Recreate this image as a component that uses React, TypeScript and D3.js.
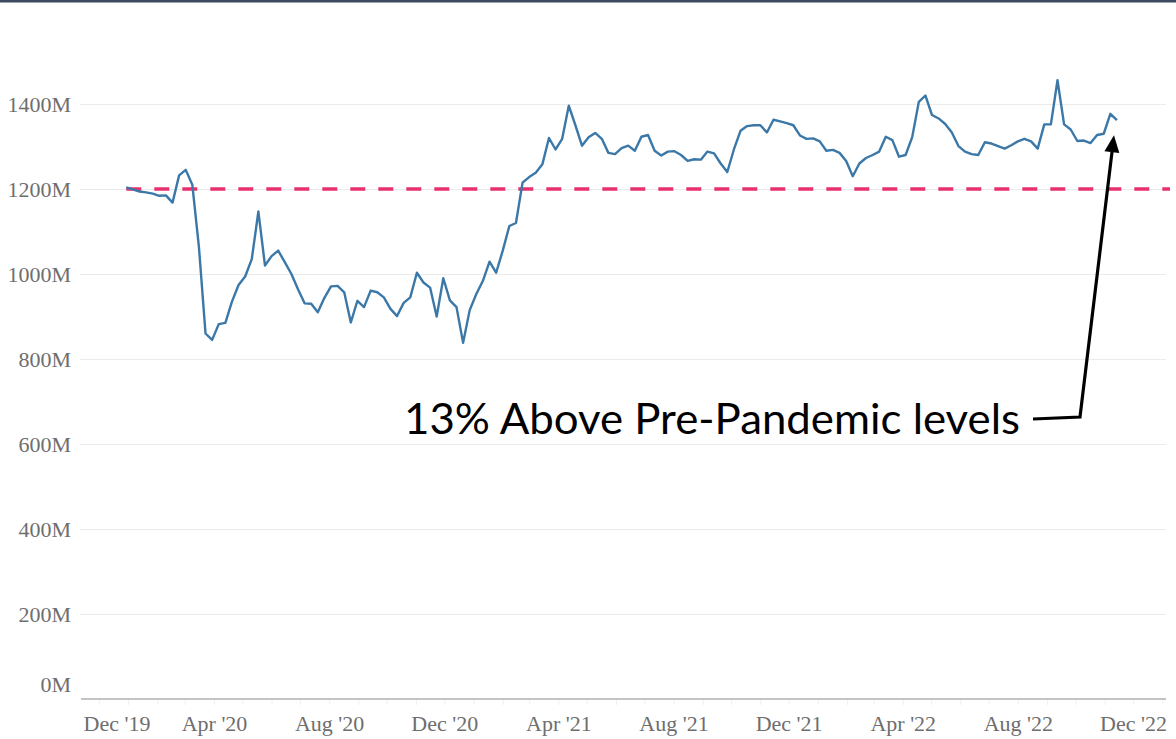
import React, { useRef, useEffect } from 'react';
import * as d3 from 'd3';

// weekly series, millions
const seriesStart = new Date(2019, 11, 30);
const weeklyValues = [
  1204, 1199, 1194, 1192, 1189, 1184, 1185, 1168, 1232, 1245,
  1210, 1063, 860, 845, 882, 885, 935, 974, 994, 1035,
  1147, 1020, 1042, 1055, 1028, 1000, 964, 931, 930, 910,
  944, 971, 972, 957, 886, 937, 922, 961, 957, 945,
  918, 901, 932, 945, 1003, 980, 968, 900, 990, 938,
  922, 838, 915, 953, 984, 1029, 1003, 1055, 1113, 1120,
  1215, 1228, 1238, 1258, 1320, 1293, 1318, 1396, 1350, 1302,
  1322, 1332, 1318, 1285, 1282, 1296, 1302, 1290, 1323, 1327,
  1290, 1279, 1288, 1289, 1280, 1266, 1270, 1269, 1288, 1284,
  1260, 1240, 1293, 1337, 1348, 1350, 1350, 1333, 1363, 1359,
  1355, 1350, 1326, 1318, 1319, 1312, 1290, 1292, 1285, 1266,
  1230, 1260, 1273, 1280, 1288, 1323, 1315, 1276, 1280, 1322,
  1405, 1420, 1374, 1366, 1353, 1333, 1301, 1288, 1282, 1280,
  1310, 1307, 1301, 1295, 1303, 1312, 1318, 1312, 1295, 1352,
  1352, 1456, 1352, 1340, 1313, 1314, 1308, 1327, 1330, 1377,
  1362,
];
const preCovidLevel = 1200;
const yTicks = [0, 200, 400, 600, 800, 1000, 1200, 1400];
const xTickDates = [
  new Date(2019, 11, 1), new Date(2020, 3, 1), new Date(2020, 7, 1), new Date(2020, 11, 1),
  new Date(2021, 3, 1), new Date(2021, 7, 1), new Date(2021, 11, 1), new Date(2022, 3, 1),
  new Date(2022, 7, 1), new Date(2022, 11, 1),
];
const annotationText = '13% Above Pre-Pandemic levels';

const W = 1176;
const H = 739;

const App = () => {
  const ref = useRef<SVGSVGElement>(null);

  useEffect(() => {
    const svg = d3.select(ref.current);
    svg.selectAll('*').remove();

    const data = weeklyValues.map((v, i) => ({ date: d3.timeDay.offset(seriesStart, i * 7), value: v }));

    const left = 80, right = 1166;
    const x = d3.scaleTime()
      .domain([new Date(2019, 10, 12), new Date(2023, 0, 5)])
      .range([81, 1166]);
    const y = d3.scaleLinear().domain([0, 1400]).range([699, 104]);

    // slide frame line at top
    svg.append('rect').attr('x', 0).attr('y', 0).attr('width', W).attr('height', 2).attr('fill', '#3e4a5f');
    svg.append('rect').attr('x', 0).attr('y', 2).attr('width', W).attr('height', 1).attr('fill', '#9aa3b0');

    // --- grid ---
    svg.append('g')
      .attr('transform', `translate(${left},0)`)
      .call(d3.axisLeft(y).tickValues(yTicks.filter(d => d > 0)).tickSize(-(right - left)).tickFormat(() => ''))
      .call(g => g.select('.domain').remove())
      .selectAll('.tick line')
      .attr('stroke', '#ebebeb')
      .attr('stroke-width', 1.2);

    // --- y labels ---
    const yAxis = svg.append('g')
      .attr('transform', `translate(${left},0)`)
      .call(d3.axisLeft(y).tickValues(yTicks).tickSize(0).tickPadding(9).tickFormat(d => `${d}M`))
      .call(g => g.select('.domain').remove());
    yAxis.selectAll('text')
      .attr('dy', (d: any) => (d === 0 ? '-8' : '7'))
      .style('font-family', '"Liberation Serif", "Times New Roman", serif')
      .style('font-size', '22px')
      .style('fill', '#6e6e6e');

    // --- x axis ---
    const xAxis = svg.append('g')
      .attr('transform', `translate(0,${y(0)})`)
      .call(d3.axisBottom(x).ticks(d3.timeMonth.every(1)).tickSize(6).tickFormat(() => ''))
      .call(g => g.select('.domain').remove());
    xAxis.selectAll('.tick line').attr('stroke', '#f0f0f0');

    const xLabels = svg.append('g')
      .attr('transform', `translate(0,${y(0)})`)
      .call(d3.axisBottom(x).tickValues(xTickDates).tickSize(0).tickFormat(d3.timeFormat("%b '%y") as any))
      .call(g => g.select('.domain').remove());
    xLabels.selectAll('text')
      .attr('y', 32)
      .attr('dy', 0)
      .style('font-family', '"Liberation Serif", "Times New Roman", serif')
      .style('font-size', '22px')
      .style('fill', '#6e6e6e');
    // first label is pushed in so it stays inside the plot
    xLabels.select('.tick text').attr('text-anchor', 'start').attr('x', 83 - x(xTickDates[0]));

    svg.append('line')
      .attr('x1', 81).attr('x2', right)
      .attr('y1', y(0)).attr('y2', y(0))
      .attr('stroke', '#c4c4c4')
      .attr('stroke-width', 2);

    // --- pre-pandemic reference ---
    svg.append('line')
      .attr('x1', x(seriesStart)).attr('x2', 1170)
      .attr('y1', y(preCovidLevel)).attr('y2', y(preCovidLevel))
      .attr('stroke', '#e8306e')
      .attr('stroke-width', 3.5)
      .attr('stroke-dasharray', '15 13');

    // --- series ---
    const line = d3.line<{ date: Date; value: number }>()
      .x(d => x(d.date))
      .y(d => y(d.value));

    svg.append('path')
      .datum(data)
      .attr('fill', 'none')
      .attr('stroke', '#3b78a8')
      .attr('stroke-width', 2.4)
      .attr('stroke-linejoin', 'round')
      .attr('d', line);

    // --- annotation ---
    svg.append('text')
      .attr('x', 404)
      .attr('y', 434)
      .attr('textLength', 616)
      .attr('lengthAdjust', 'spacingAndGlyphs')
      .style('font-family', 'Lato, "Open Sans", sans-serif')
      .style('font-size', '43px')
      .style('fill', '#000')
      .text(annotationText);

    const last = data[data.length - 1];
    const tipX = x(last.date) - 3, tipY = y(last.value) + 15;
    svg.append('path')
      .attr('d', `M1033,419 L1080,417 L${tipX - 1.6},${tipY + 14}`)
      .attr('fill', 'none')
      .attr('stroke', '#000')
      .attr('stroke-width', 3.2)
      .attr('stroke-linejoin', 'miter');
    const ang = Math.atan2(tipY - 417, tipX - 1080);
    const hl = 17, hw = 7.5;
    const bx = tipX - hl * Math.cos(ang), by = tipY - hl * Math.sin(ang);
    svg.append('path')
      .attr('d', `M${tipX},${tipY} L${bx + hw * Math.sin(ang)},${by - hw * Math.cos(ang)} L${bx - hw * Math.sin(ang)},${by + hw * Math.cos(ang)} Z`)
      .attr('fill', '#000');
  }, []);

  return (
    <div style={{ position: 'absolute', left: 0, top: 0, background: '#fff' }}>
      <svg ref={ref} width={W} height={H} style={{ display: 'block', background: '#fff' }}></svg>
    </div>
  );
};

export default App;
